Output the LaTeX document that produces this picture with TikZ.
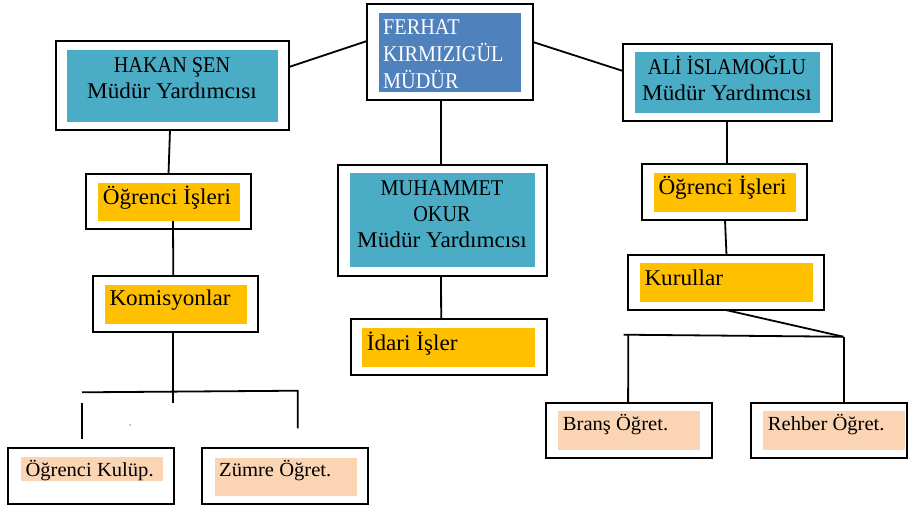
\documentclass[tikz,border=0pt]{standalone}
\usepackage{fontspec}
\setmainfont{Liberation Serif}[FakeStretch=1.03]
\newfontfamily\capsfont{Liberation Serif}[FakeStretch=0.9]
\usetikzlibrary{fit}
\definecolor{tealfill}{HTML}{4BACC6}
\definecolor{bluefill}{HTML}{4F81BD}
\definecolor{goldfill}{HTML}{FFC000}
\definecolor{peachfill}{HTML}{FBD4B4}
\tikzset{
  outerbox/.style={draw=black, line width=2pt, fill=white, inner sep=0pt, outer sep=0pt},
  innerbox/.style={draw=none, inner sep=0pt, outer sep=0pt},
  link/.style={draw=black, line width=1.8pt},
  bigtxt/.style={inner sep=0pt, font=\fontsize{22.5}{26}\selectfont},
  capstxt/.style={inner sep=0pt, font=\fontsize{22.5}{26}\capsfont},
  smalltxt/.style={inner sep=0pt, font=\fontsize{20}{24}\selectfont},
}
\begin{document}
\begin{tikzpicture}[x=1pt,y=-1pt]
\useasboundingbox (0,0) rectangle (908,507);
% ---- boxes ----
\node[outerbox, fit={(367,4)(533,100)}] (ferhat) {};
\node[innerbox, fill=bluefill, fit={(379,13)(521,92)}] (ferhatin) {};
\node[outerbox, fit={(56,41)(289,130)}] (hakan) {};
\node[innerbox, fill=tealfill, fit={(67,50)(278,122)}] (hakanin) {};
\node[outerbox, fit={(623,44)(832,121)}] (ali) {};
\node[innerbox, fill=tealfill, fit={(635,52)(820,113)}] (aliin) {};
\node[outerbox, fit={(338,165)(547,276)}] (muh) {};
\node[innerbox, fill=tealfill, fit={(350,173)(535,267)}] (muhin) {};
\node[outerbox, fit={(86,174)(251,229)}] (ogra) {};
\node[innerbox, fill=goldfill, fit={(98,183)(240,221)}] (ograin) {};
\node[outerbox, fit={(642,164)(807,220)}] (ogrb) {};
\node[innerbox, fill=goldfill, fit={(654,173)(796,212)}] (ogrbin) {};
\node[outerbox, fit={(93,276)(258,332)}] (kom) {};
\node[innerbox, fill=goldfill, fit={(105,285)(247,324)}] (komin) {};
\node[outerbox, fit={(351,319)(547,375)}] (idari) {};
\node[innerbox, fill=goldfill, fit={(362,328)(535,367)}] (idariin) {};
\node[outerbox, fit={(628,255)(824,310)}] (kur) {};
\node[innerbox, fill=goldfill, fit={(640,263)(813,302)}] (kurin) {};
\node[outerbox, fit={(8,448)(174,504)}] (kulup) {};
\node[innerbox, fill=peachfill, fit={(21,457)(163,481)}] (kulupin) {};
\node[outerbox, fit={(202,448)(368,504)}] (zumre) {};
\node[innerbox, fill=peachfill, fit={(215,458)(357,496)}] (zumrein) {};
\node[outerbox, fit={(546,403)(712,458)}] (brans) {};
\node[innerbox, fill=peachfill, fit={(558,411)(700,450)}] (bransin) {};
\node[outerbox, fit={(751,403)(907,458)}] (rehber) {};
\node[innerbox, fill=peachfill, fit={(763,411)(905,450)}] (rehberin) {};
% ---- texts ----
\node[capstxt, text=white, anchor=base west] (tf1) at (383,34) {FERHAT};
\node[capstxt, text=white, anchor=base west] (tf2) at (383,61.7) {KIRMIZIGÜL};
\node[capstxt, text=white, anchor=base west] (tf3) at (383,88) {MÜDÜR};
\node[capstxt, anchor=base] (th1) at (172,72.7) {HAKAN ŞEN};
\node[bigtxt, anchor=base] (th2) at (172,98) {Müdür Yardımcısı};
\node[capstxt, anchor=base] (ta1) at (727,74) {ALİ İSLAMOĞLU};
\node[bigtxt, anchor=base] (ta2) at (727,100) {Müdür Yardımcısı};
\node[capstxt, anchor=base] (tm1) at (442,195) {MUHAMMET};
\node[capstxt, anchor=base] (tm2) at (442,221) {OKUR};
\node[bigtxt, anchor=base] (tm3) at (442,247) {Müdür Yardımcısı};
\node[bigtxt, anchor=base west] (toa) at (102.7,204) {Öğrenci İşleri};
\node[bigtxt, anchor=base west] (tob) at (658.3,194.3) {Öğrenci İşleri};
\node[bigtxt, anchor=base west] (tk) at (109.3,305.7) {Komisyonlar};
\node[bigtxt, anchor=base west] (ti) at (366.7,350) {İdari İşler};
\node[bigtxt, anchor=base west] (tku) at (644.3,285) {Kurullar};
\node[smalltxt, anchor=base west] (tkl) at (25.3,476) {Öğrenci Kulüp.};
\node[smalltxt, anchor=base west] (tz) at (219,476.7) {Zümre Öğret.};
\node[smalltxt, anchor=base west] (tb) at (562.7,430) {Branş Öğret.};
\node[smalltxt, anchor=base west] (tr) at (767.7,430) {Rehber Öğret.};
% ---- free-end coordinates ----
\coordinate (kdown) at (173.3,402.7);
\coordinate (hl) at (82,392.3);
\coordinate (hr) at (297.7,390.7);
\coordinate (hrb) at (297.7,428.3);
\coordinate (vlt) at (82,403.3);
\coordinate (vlb) at (82,439.3);
\coordinate (kslant) at (843.3,336.7);
\coordinate (kl) at (623.7,334.7);
\coordinate (kvl) at (628.3,334.7);
\coordinate (kvr) at (844.3,336.7);
% ---- connectors ----
\draw[link] ([yshift=-26pt]hakan.north east) -- ([yshift=-37pt]ferhat.north west);
\draw[link] ([yshift=-38pt]ferhat.north east) -- ([yshift=-27pt]ali.north west);
\draw[link] ([xshift=-9pt]ferhat.south) -- ([xshift=-1.5pt]muh.north);
\draw[link] ([xshift=-2.5pt]hakan.south) -- (ogra.north);
\draw[link] ([xshift=4pt]ograin.south) -- ([xshift=-2.2pt]kom.north);
\draw[link] ([xshift=-2.2pt]kom.south) -- (kdown);
\draw[link] (hl) -- (hr) -- (hrb);
\draw[link] (vlt) -- (vlb);
\draw[link] ([xshift=-1.5pt]muh.south) -- ([xshift=-7.8pt]idari.north);
\draw[link] ([xshift=-0.2pt]ali.south) -- ([xshift=2.8pt]ogrb.north);
\draw[link] ([xshift=0.5pt]ogrb.south) -- ([xshift=0.5pt]kur.north);
\draw[link] ([xshift=-0.2pt]kur.south) -- (kslant);
\draw[link] (kl) -- (kslant);
\draw[link] (kvl) -- ([xshift=-0.9pt]brans.north);
\draw[link] (kvr) -- ([xshift=15.3pt]rehber.north);
\fill (130,425) circle (0.7);
\end{tikzpicture}
\end{document}
